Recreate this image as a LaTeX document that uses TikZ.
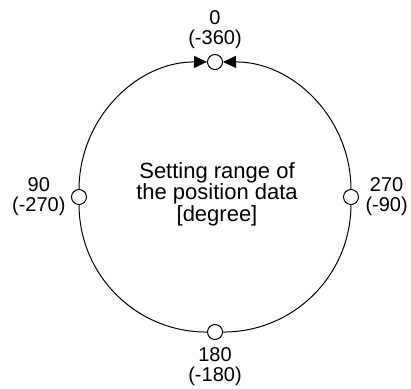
\documentclass[tikz,border=0pt]{standalone}
\usepackage{fontspec}
\setmainfont{Liberation Sans}
\usetikzlibrary{arrows.meta,positioning}

\begin{document}
\begin{tikzpicture}[x=1pt, y=1pt, line width=1pt,
  port/.style={draw, circle, fill=white, minimum size=15pt, inner sep=0pt},
  poslabel/.style={font=\fontsize{20}{20}\selectfont, align=center, inner sep=0pt},
  arrowtip/.style={-{Triangle[length=13pt,width=12pt]}}]

\useasboundingbox (0,0) rectangle (411,388);

\node[port] (p0) at (215,326) {};
\node[port] (p90) at (79,191) {};
\node[port] (p180) at (215,56) {};
\node[port] (p270) at (351,191) {};

\node[poslabel, above=4.5pt of p0] (l0) {0\\(-360)};
\node[poslabel, left=5pt of p90] (l90) {90\\(-270)};
\node[poslabel, below=7.5pt of p180] (l180) {180\\(-180)};
\node[poslabel, right=6pt of p270] (l270) {270\\(-90)};

\node[font=\fontsize{22}{20}\selectfont, align=center] (title) at (217,194)
  {Setting range of\\the position data\\{}[degree]};

% Range circle
\draw[arrowtip] (p90) to[bend left=45] (p0);
\draw[arrowtip] (p270) to[bend right=45] (p0);
\draw (p90) to[bend right=45] (p180);
\draw (p180) to[bend right=45] (p270);

\end{tikzpicture}
\end{document}
